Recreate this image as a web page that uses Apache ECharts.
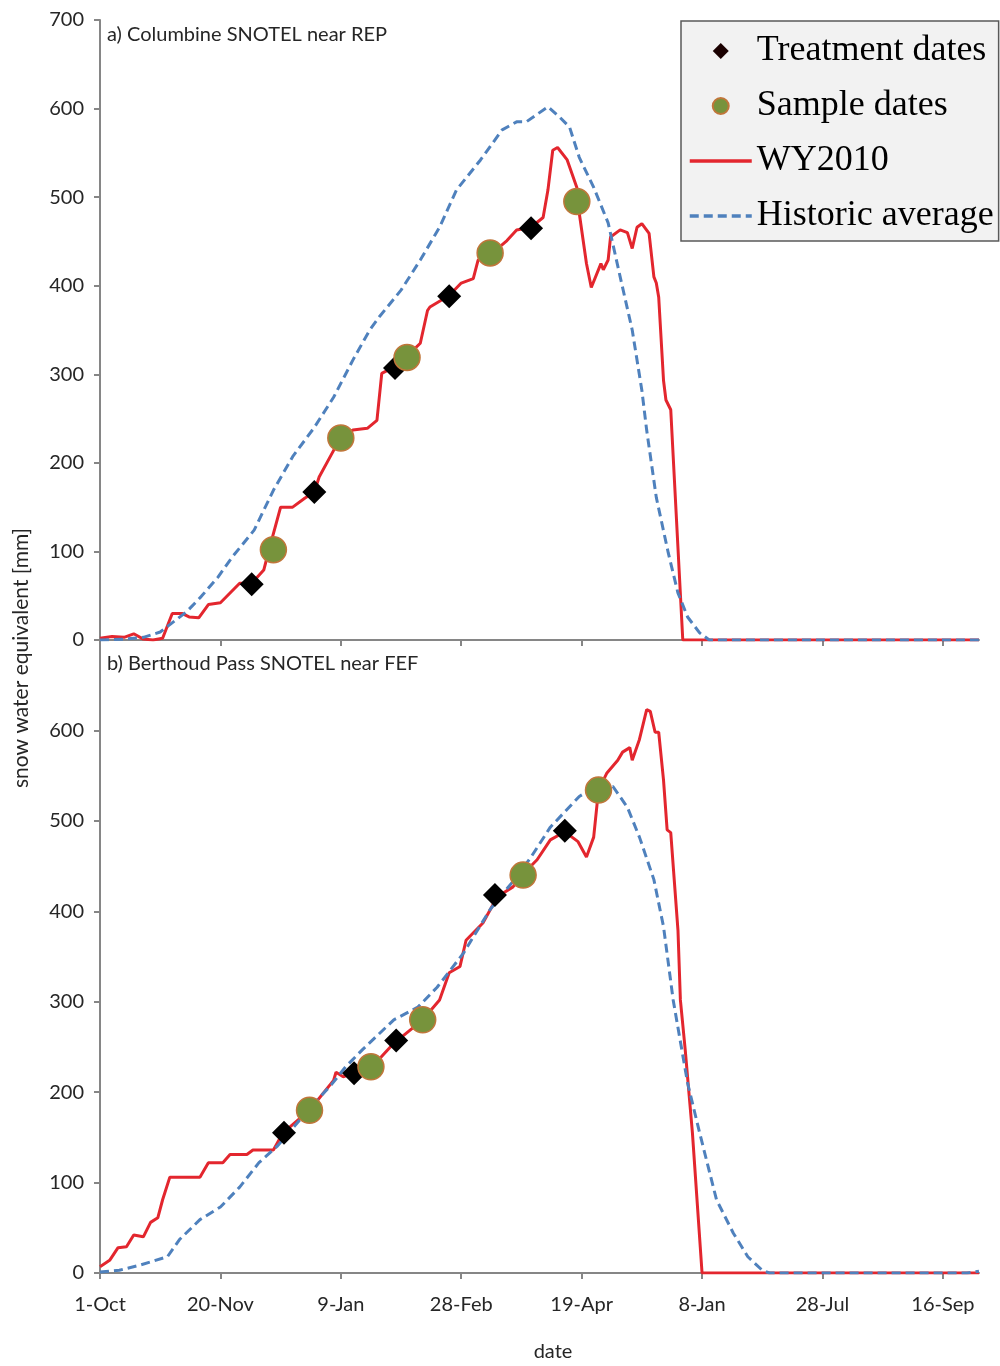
<!DOCTYPE html>
<html>
<head>
<meta charset="utf-8">
<script src="https://cdn.jsdelivr.net/npm/echarts@6/dist/echarts.min.js"></script>
<style>html,body{margin:0;padding:0;background:#fff}#c{width:1000px;height:1366px}</style>
</head>
<body>
<div id="c"></div>
<script>
// x = day of water year (0 = 1-Oct)
const xTickLabels = ['1-Oct','20-Nov','9-Jan','28-Feb','19-Apr','8-Jan','28-Jul','16-Sep'];
const xTickDays = [0,50,100,150,200,250,300,350];

// a) Columbine SNOTEL near REP
const topWY2010 = [[0,2],[5,4],[10,3],[14,7],[18,1],[22,0],[26,2],[30,30],[34,30],[37,26],[41,25],[45,40],[50,42],[54,53],[58,64],[63,64],[68,79],[70,100],[75,150],[80,150],[85,160],[89,167],[91,184],[96,209],[100,229],[105,237],[111,239],[115,248],[117,301],[122,308],[128,322],[133,335],[136,372],[137,376],[145,389],[150,403],[155,408],[157,429],[163,437],[169,451],[173,463],[179,466],[184,477],[186,508],[188,553],[190,556],[194,542],[198,511],[199,482],[202,425],[204,398],[208,425],[209,418],[211,429],[212,455],[216,463],[219,460],[221,442],[223,466],[225,470],[228,459],[230,410],[231,403],[232,387],[234,293],[235,271],[237,260],[242,0],[365,0]];
const topHistoric = [[0,0],[10,1],[18,3],[25,9],[36,32],[42,49],[49,71],[55,94],[64,124],[72,169],[80,207],[89,240],[97,274],[105,316],[112,350],[116,365],[125,395],[133,429],[141,466],[148,508],[158,542],[167,576],[173,585],[177,585],[186,602],[191,590],[195,579],[199,545],[205,511],[211,471],[216,410],[221,350],[225,282],[227,237],[231,161],[236,98],[240,53],[244,26],[249,8],[253,0],[365,0]];
const topTreatment = [[63,63],[89,167],[122.5,307],[145,388],[179,465]];
const topSample = [[72,102],[100,228],[127.5,319],[162,437],[198,495]];

// b) Berthoud Pass SNOTEL near FEF
const botWY2010 = [[0,7],[4,14],[7.5,28],[11,29],[14,42],[18,40],[21,56],[24,61],[26,81],[29,106],[41.5,106],[45,122],[51,122],[54,131],[61,131],[63.5,136],[72,136],[76,155],[87,180],[97,213],[98,222],[101,217],[105,221],[113,228],[122,254],[134,280],[141,302],[145,332],[149.5,339],[152,368],[159,387],[165,416],[171.5,427],[176,442],[181.5,457],[187,479],[193,488],[198.5,477],[202,460],[205,482],[207,534],[210.5,553],[215,567],[217,576],[220,581],[221,567],[224,590],[227,623],[228.5,621],[230.5,598],[232,598],[234,545],[235.5,490],[237,487],[240,379],[241,302],[243,247],[246,155],[250,0],[365,0]];
const botHistoric = [[0,1],[8,3],[17,9],[28,18],[33,37],[41.5,59],[50,73],[58,95],[66,122],[73.5,140],[80,160],[88,185],[96,208],[102,228],[109,247],[122,280],[132,294],[140,316],[151,354],[162,402],[173,438],[179,460],[187,493],[199,527],[206,538],[213,538],[219,515],[224,482],[230,435],[234,383],[238,302],[244,210],[249,155],[256,81],[263,44],[269,18],[275,3],[278,0],[360,0],[365,2]];
const botTreatment = [[76.4,155],[105.5,221],[123,257],[164,418],[193,489]];
const botSample = [[87,180],[112.5,228],[134,280],[175.7,440],[207,534]];

const RED = '#e3262e', BLUE = '#4f81bd', GREEN = '#77933c';
const AX = '#868686', TXT = '#262626', FONT = 'Lato';

function xAxisCfg(grid, showLabels) {
  return {
    type: 'value', gridIndex: grid, min: 0, max: 365, interval: 50,
    axisLine: { show: true, lineStyle: { color: AX, width: 2 } },
    axisTick: { show: true, length: 6, customValues: xTickDays, lineStyle: { color: AX, width: 2 } },
    axisLabel: showLabels ? {
      show: true, customValues: xTickDays, margin: 22, fontFamily: FONT, fontSize: 20, color: TXT,
      formatter: v => { const i = xTickDays.indexOf(v); return i >= 0 ? xTickLabels[i] : ''; }
    } : { show: false },
    splitLine: { show: false }
  };
}
function yAxisCfg(grid, hideTop) {
  return {
    type: 'value', gridIndex: grid, min: 0, max: 700, interval: 100,
    axisLine: { show: true, lineStyle: { color: AX, width: 2 } },
    axisTick: { show: true, length: 6, lineStyle: { color: AX, width: 2 } },
    axisLabel: { margin: 16, fontFamily: FONT, fontSize: 20, color: TXT,
      formatter: v => (hideTop && v === 700) ? '' : String(v) },
    splitLine: { show: false }
  };
}
function panelSeries(idx, wy, hist, treat, samp) {
  return [
    { name: 'WY2010', type: 'line', xAxisIndex: idx, yAxisIndex: idx, data: wy, symbol: 'none',
      lineStyle: { color: RED, width: 3 }, itemStyle: { color: RED }, z: 2, animation: false },
    { name: 'Historic average', type: 'line', xAxisIndex: idx, yAxisIndex: idx, data: hist, symbol: 'none',
      lineStyle: { color: BLUE, width: 3, type: [9, 5] }, itemStyle: { color: BLUE }, z: 3, animation: false },
    { name: 'Treatment dates', type: 'scatter', xAxisIndex: idx, yAxisIndex: idx, data: treat, symbol: 'diamond',
      symbolSize: 24, itemStyle: { color: '#000', opacity: 1 }, z: 4, animation: false },
    { name: 'Sample dates', type: 'scatter', xAxisIndex: idx, yAxisIndex: idx, data: samp, symbol: 'circle',
      symbolSize: 26, itemStyle: { color: GREEN, borderColor: '#c0763a', borderWidth: 1.5, opacity: 1 }, z: 5, animation: false }
  ];
}

const chart = echarts.init(document.getElementById('c'), null, { renderer: 'canvas' });
chart.setOption({
  backgroundColor: '#fff',
  animation: false,
  title: [
    { text: 'a) Columbine SNOTEL near REP', left: 107, top: 23, padding: 0,
      textStyle: { fontFamily: FONT, fontSize: 20, fontWeight: 'normal', color: TXT, lineHeight: 24 } },
    { text: 'b) Berthoud Pass SNOTEL near FEF', left: 107, top: 652, padding: 0,
      textStyle: { fontFamily: FONT, fontSize: 20, fontWeight: 'normal', color: TXT, lineHeight: 24 } }
  ],
  grid: [
    { left: 100, top: 20, width: 879, height: 620, containLabel: false },
    { left: 100, top: 640, width: 879, height: 633, containLabel: false }
  ],
  xAxis: [xAxisCfg(0, false), xAxisCfg(1, true)],
  yAxis: [yAxisCfg(0, false), yAxisCfg(1, true)],
  legend: {
    left: 681, top: 21, orient: 'vertical', selectedMode: false,
    backgroundColor: '#f2f2f2', borderColor: '#595959', borderWidth: 1.5, borderRadius: 0,
    padding: [10, 5, 5, 7], itemGap: 15, itemWidth: 62, itemHeight: 16, symbolKeepAspect: true,
    textStyle: { fontFamily: 'Liberation Serif', fontSize: 36, color: '#000', lineHeight: 40 },
    data: [
      { name: 'Treatment dates', icon: 'path://M0,-1L1,0L0,1L-1,0Z', itemStyle: { color: '#1a0000' } },
      { name: 'Sample dates', icon: 'circle' },
      { name: 'WY2010', itemStyle: { opacity: 0 }, lineStyle: { width: 3.5 } },
      { name: 'Historic average', itemStyle: { opacity: 0 }, lineStyle: { width: 3.5 } }
    ]
  },
  graphic: [
    { type: 'text', x: 21, y: 658, rotation: Math.PI / 2,
      style: { text: 'snow water equivalent [mm]', font: '21px Lato', fill: TXT, align: 'center', verticalAlign: 'middle' } },
    { type: 'text', x: 553, y: 1352,
      style: { text: 'date', font: '20px Lato', fill: TXT, align: 'center', verticalAlign: 'middle' } }
  ],
  series: [].concat(
    panelSeries(0, topWY2010, topHistoric, topTreatment, topSample),
    panelSeries(1, botWY2010, botHistoric, botTreatment, botSample)
  )
});
</script>
</body>
</html>
